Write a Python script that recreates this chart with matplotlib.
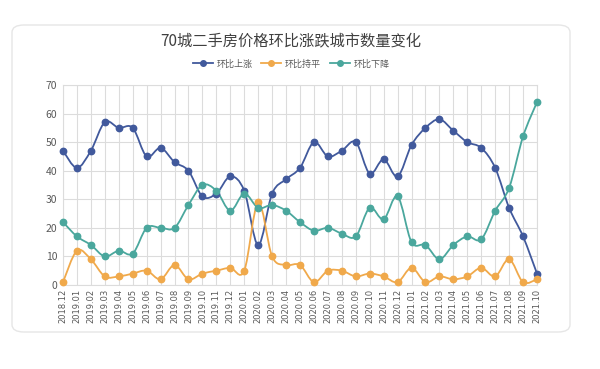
import matplotlib
matplotlib.use("Agg")
import matplotlib.pyplot as plt
from matplotlib.path import Path
from matplotlib.patches import PathPatch, FancyBboxPatch
from matplotlib.lines import Line2D

plt.rcParams['font.family'] = ['Noto Sans CJK SC', 'DejaVu Sans']

title = "70城二手房价格环比涨跌城市数量变化"
months = ["2018.12", "2019.01", "2019.02", "2019.03", "2019.04", "2019.05", "2019.06",
          "2019.07", "2019.08", "2019.09", "2019.10", "2019.11", "2019.12", "2020.01",
          "2020.02", "2020.03", "2020.04", "2020.05", "2020.06", "2020.07", "2020.08",
          "2020.09", "2020.10", "2020.11", "2020.12", "2021.01", "2021.02", "2021.03",
          "2021.04", "2021.05", "2021.06", "2021.07", "2021.08", "2021.09", "2021.10"]
up = [47, 41, 47, 57, 55, 55, 45, 48, 43, 40, 31, 32, 38, 33, 14, 32, 37, 41, 50, 45,
      47, 50, 39, 44, 38, 49, 55, 58, 54, 50, 48, 41, 27, 17, 4]
flat = [1, 12, 9, 3, 3, 4, 5, 2, 7, 2, 4, 5, 6, 5, 29, 10, 7, 7, 1, 5,
        5, 3, 4, 3, 1, 6, 1, 3, 2, 3, 6, 3, 9, 1, 2]
down = [22, 17, 14, 10, 12, 11, 20, 20, 20, 28, 35, 33, 26, 32, 27, 28, 26, 22, 19, 20,
        18, 17, 27, 23, 31, 15, 14, 9, 14, 17, 16, 26, 34, 52, 64]
series_names = ["环比上涨", "环比持平", "环比下降"]
colors = ["#41599c", "#f0a94b", "#4aa79d"]

fig = plt.figure(figsize=(6.0, 3.69), dpi=100)
fig.patch.set_facecolor("white")

# card outline
card = FancyBboxPatch((12 / 600, (369 - 332) / 369), (570 - 12) / 600, (332 - 25) / 369,
                      boxstyle="round,pad=0,rounding_size=0.02",
                      transform=fig.transFigure, facecolor="none",
                      edgecolor="#e6e6e6", linewidth=1.0, zorder=-10)
fig.patches.append(card)

ax = fig.add_axes([63 / 600, (369 - 285) / 369, (537 - 63) / 600, (285 - 85) / 369])
ax.set_facecolor("none")

x = list(range(len(months)))


def smooth_path(xs, ys):
    verts = [(xs[0], ys[0])]
    codes = [Path.MOVETO]
    n = len(xs)
    for i in range(n - 1):
        x0, y0 = (xs[i - 1], ys[i - 1]) if i > 0 else (xs[i], ys[i])
        x1, y1 = xs[i], ys[i]
        x2, y2 = xs[i + 1], ys[i + 1]
        x3, y3 = (xs[i + 2], ys[i + 2]) if i + 2 < n else (xs[i + 1], ys[i + 1])
        t = 1 / 6
        c1 = (x1 + (x2 - x0) * t, y1 + (y2 - y0) * t)
        c2 = (x2 - (x3 - x1) * t, y2 - (y3 - y1) * t)
        verts += [c1, c2, (x2, y2)]
        codes += [Path.CURVE4] * 3
    return Path(verts, codes)


for data, c in zip([up, flat, down], colors):
    patch = PathPatch(smooth_path(x, data), facecolor="none", edgecolor=c,
                      linewidth=1.3, zorder=3, clip_on=False)
    ax.add_patch(patch)
    ax.plot(x, data, linestyle="none", marker="o", markersize=4.6,
            color=c, zorder=4, clip_on=False)

ax.set_xlim(0, len(months) - 1)
ax.set_ylim(0, 70)
ax.set_yticks(range(0, 71, 10))
ax.set_xticks(x)
ax.set_xticklabels(months, rotation=90, fontsize=6, color="#595959",
                   family=['DejaVu Sans'])
ax.tick_params(axis='y', labelsize=7.5, labelcolor="#595959", length=0, pad=4)
ax.tick_params(axis='x', length=0, pad=3)
ax.grid(True, color="#dcdcdc", linewidth=0.8, zorder=0)
ax.set_axisbelow(True)
for s in ax.spines.values():
    s.set_color("#dcdcdc")
    s.set_linewidth(0.8)

fig.text(291 / 600, 1 - 41 / 369, title, ha="center", va="center",
         fontsize=11, color="#404040")

handles = [Line2D([0], [0], color=c, marker="o", markersize=4, linewidth=1.3)
           for c in colors]
fig.legend(handles, series_names, loc="center", bbox_to_anchor=(291 / 600, 1 - 64 / 369),
           ncol=3, frameon=False, fontsize=6.5, handlelength=2.2, handletextpad=0.4,
           columnspacing=1.0, labelcolor="#595959")

fig.savefig("out.png", dpi=100)
